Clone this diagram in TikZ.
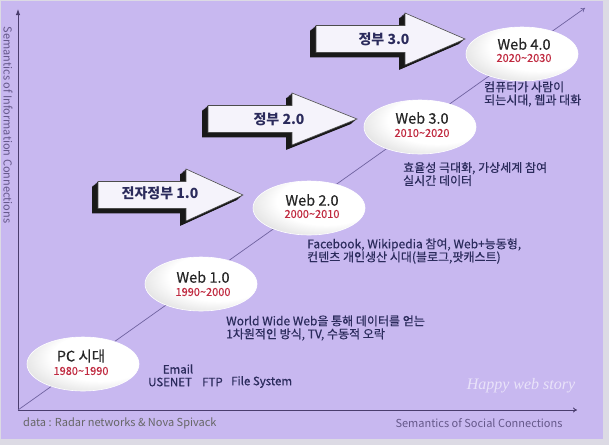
\documentclass[tikz,border=0pt]{standalone}
\usepackage{fontspec}
\setmainfont{Noto Sans CJK KR}
\newfontfamily\krm{Noto Sans CJK KR}[FakeBold=0.5]
\newfontfamily\wmfont{Liberation Serif}
\usetikzlibrary{shapes.geometric,arrows.meta}
\definecolor{bgl}{HTML}{C8B8F0}
\definecolor{framec}{HTML}{DCDAE4}
\definecolor{axisc}{HTML}{4A3D6E}
\definecolor{diagc}{HTML}{6F62A0}
\definecolor{navy}{HTML}{2B2B5C}
\definecolor{yearc}{HTML}{C02A40}
\definecolor{labc}{HTML}{65588A}
\definecolor{arrowfill}{HTML}{F5F3FB}
\pgfdeclareradialshading{eball}{\pgfpoint{12bp}{10bp}}{color(0bp)=(white); color(22bp)=(white); color(36bp)=(gray!28); color(48bp)=(gray!68); color(62bp)=(gray!88)}
\newcommand\arrowpath[4]{(#1,#4-13.5) -- (#2,#4-13.5) -- (#2,#4-26) -- (#3,#4) -- (#2,#4+26) -- (#2,#4+13.5) -- (#1,#4+13.5) -- cycle}
\newcommand\govarrow[4]{%
  \foreach \s in {1,...,7}{\fill[arrowshadow,shift={(-0.85*\s,0.7*\s)}] \arrowpath{#1}{#2}{#3}{#4};}%
  \filldraw[arrowbody] \arrowpath{#1}{#2}{#3}{#4};}
\tikzset{
  arrowshadow/.style={fill=black!90},
  arrowbody/.style={fill=arrowfill,draw=black!70,line width=0.6pt},
  ball/.style={ellipse,minimum width=112pt,minimum height=54pt,inner sep=0pt,shading=eball,draw=white,line width=0.6pt},
  webt/.style={font=\krm\fontsize{14.5}{14.5}\selectfont,text=black!85},
  yeart/.style={font=\krm\fontsize{11}{11}\selectfont,text=yearc},
  desc/.style={font=\krm\fontsize{12}{13}\selectfont,text=navy,align=left,anchor=west,inner sep=0pt},
  smalltxt/.style={font=\krm\fontsize{11.5}{11.5}\selectfont,text=navy,inner sep=0pt},
  govt/.style={font=\bfseries\fontsize{14}{14}\selectfont,text=navy},
  axlab/.style={font=\fontsize{11}{11}\selectfont,text=labc,inner sep=0pt},
  axisline/.style={draw=axisc,line width=0.9pt},
}
\begin{document}
\begin{tikzpicture}[x=1pt,y=-1pt]
\useasboundingbox (0,0) rectangle (609,445);
\fill[framec] (0,0) rectangle (609,445);
\fill[bgl] (1,1) rectangle (603,439);
% axes
\coordinate (O) at (18,410);
\coordinate (Ytop) at (18,9);
\coordinate (Xend) at (577,410);
\coordinate (Dend) at (585,8);
\draw[axisline,-{Latex[length=6pt,width=4.5pt]}] (O) -- (Ytop);
\draw[axisline,-{To[length=4pt,width=5pt]}] (O) -- (Xend);
\draw[draw=diagc,line width=0.7pt,-{To[length=4pt,width=5pt]}] (O) -- (Dend);
% axis labels
\node[axlab,rotate=-90] (ylab) at (8,125) {Semantics of Information Connections};
\node[axlab] (xlab) at (479,423) {Semantics of Social Connections};
\node[axlab,text=black!60,anchor=west] (src) at (23,423) {data : Radar networks \& Nova Spivack};
% watermark
\node[font=\wmfont\itshape\fontsize{16}{16}\selectfont,text=white,opacity=0.6,inner sep=0pt] (wm) at (521,386) {Happy web story};
% government arrows
\govarrow{98}{186}{243}{195}
\node[govt] (g1) at (160,193) {전자정부 1.0};
\govarrow{208}{292}{357}{119}
\node[govt] (g2) at (279,119) {정부 2.0};
\govarrow{316}{405}{465}{39}
\node[govt] (g3) at (384,39) {정부 3.0};
% ellipses
\node[ball] (e0) at (83,364) {};
\node[webt] (w0) at (81,356) {PC 시대};
\node[yeart] (y0) at (81,371) {1980\char"7E 1990};
\node[ball] (e1) at (201,284) {};
\node[webt] (w1) at (203,277) {Web 1.0};
\node[yeart] (y1) at (203,292) {1990\char"7E 2000};
\node[ball] (e2) at (309,208) {};
\node[webt] (w2) at (312,200) {Web 2.0};
\node[yeart] (y2) at (312,214) {2000\char"7E 2010};
\node[ball] (e3) at (420,127) {};
\node[webt] (w3) at (422,118) {Web 3.0};
\node[yeart] (y3) at (422,133) {2010\char"7E 2020};
\node[ball] (e4) at (522,54) {};
\node[webt] (w4) at (524,44) {Web 4.0};
\node[yeart] (y4) at (524,58) {2020\char"7E 2030};
% descriptions
\node[smalltxt] (email) at (178,369) {Email};
\node[smalltxt,anchor=west] (usenet) at (148,382) {USENET};
\node[smalltxt,anchor=west] (ftp) at (202,382) {FTP};
\node[smalltxt,anchor=west] (fs) at (231,382) {File System};
\node[desc] (d1) at (226,328) {World Wide Web을 통해 데이터를 얻는\\1차원적인 방식, TV, 수동적 오락};
\node[desc] (d2) at (307,251) {Facebook, Wikipedia 참여, Web+능동형,\\컨텐츠 개인생산 시대(블로그,팟캐스트)};
\node[desc] (d3) at (403,174) {효율성 극대화, 가상세계 참여\\실시간 데이터};
\node[desc] (d4) at (484,94) {컴퓨터가 사람이\\되는시대, 웹과 대화};
\end{tikzpicture}
\end{document}
